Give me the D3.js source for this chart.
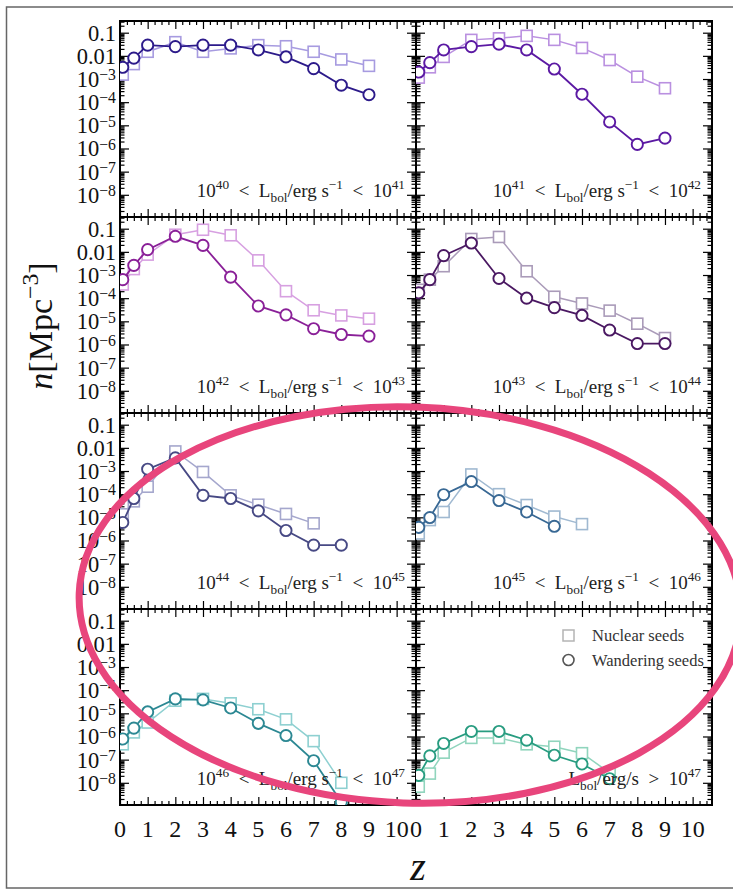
<!DOCTYPE html>
<html>
<head>
<meta charset="utf-8">
<script src="https://cdn.jsdelivr.net/npm/d3@7"></script>
<style>
  body { margin: 0; background: #fff; }
  svg { display: block; }
  text { font-family: "Liberation Serif", "DejaVu Serif", serif; white-space: pre; }
</style>
</head>
<body>
<svg id="fig" width="733" height="890"></svg>
<script>
// Redshift grid shared by every luminosity bin
const zGrid = [0.1, 0.5, 1, 2, 3, 4, 5, 6, 7, 8, 9];

// Number densities n [Mpc^-3] per luminosity bin (nuclear vs wandering seeds)
const nuclear_40_41   = [1.55e-3, 4.4e-3, 0.015, 0.039, 0.015, 0.021, 0.029, 0.026, 0.015, 7e-3, 3.7e-3];
const wandering_40_41 = [3.2e-3, 8e-3, 0.029, 0.025, 0.029, 0.029, 0.018, 9e-3, 2.8e-3, 5.4e-4, 2.1e-4];

const nuclear_41_42   = [1.15e-3, 3.2e-3, 9e-3, 0.049, 0.057, 0.073, 0.049, 0.022, 6.6e-3, 1.26e-3, 4e-4];
const wandering_41_42 = [2e-3, 5.1e-3, 0.018, 0.025, 0.032, 0.018, 2.7e-3, 2.2e-4, 1.4e-5, 1.5e-6, 2.8e-6];

const nuclear_42_43   = [3.9e-4, 1.8e-3, 7.6e-3, 0.055, 0.09, 0.052, 4.3e-3, 2e-4, 3e-5, 1.8e-5, 1.3e-5];
const wandering_42_43 = [6.3e-4, 2.6e-3, 0.0125, 0.047, 0.019, 8.1e-4, 4.6e-5, 1.9e-5, 4.8e-6, 2.7e-6, 2.3e-6];

const nuclear_43_44   = [2.3e-4, 6.3e-4, 2.4e-3, 0.036, 0.044, 1.45e-3, 1.15e-4, 5.9e-5, 2.9e-5, 7.9e-6, 1.9e-6];
const wandering_43_44 = [1.7e-4, 6.3e-4, 6.9e-3, 0.024, 7.1e-4, 1e-4, 3.9e-5, 1.8e-5, 4.2e-6, 1.1e-6, 1.1e-6];

const nuclear_44_45   = [1.35e-5, 4.9e-5, 2.1e-4, 7e-3, 9.1e-4, 8.9e-5, 3.5e-5, 1.4e-5, 5.5e-6];
const wandering_44_45 = [6e-6, 6.5e-5, 1.2e-3, 3.7e-3, 8.9e-5, 6.5e-5, 1.9e-5, 2.7e-6, 6.3e-7, 6.3e-7];

const nuclear_45_46   = [2e-6, 7.6e-6, 1.7e-5, 7.1e-4, 1e-4, 3.4e-5, 1.08e-5, 5.1e-6];
const wandering_45_46 = [3.7e-6, 9.8e-6, 9.5e-5, 3.5e-4, 5.3e-5, 1.7e-5, 4.1e-6];

const nuclear_46_47   = [4.6e-7, 1.5e-6, 4e-6, 3.5e-5, 4.2e-5, 2.7e-5, 1.5e-5, 5.5e-6, 6.3e-7, 1e-8];
const wandering_46_47 = [7.8e-7, 2.3e-6, 1.15e-5, 4.2e-5, 3.8e-5, 1.7e-5, 3.7e-6, 1.1e-6, 9e-8, 1.5e-9];

const nuclear_47   = [6.8e-9, 2.5e-8, 2e-7, 8.7e-7, 8.7e-7, 4.6e-7, 3.6e-7, 1.9e-7, 2.7e-8];
const wandering_47 = [2.1e-8, 1.45e-7, 5e-7, 1.65e-6, 1.65e-6, 6.9e-7, 1.55e-7, 6.5e-8, 1.5e-8];

// Bin labels: [text, mode] with mode 0 normal, 1 superscript, -1 subscript
const binLabels = [
  [["10",0],["40",1],["  <  L",0],["bol",-1],["/erg s",0],["−1",1],["  <  10",0],["41",1]],
  [["10",0],["41",1],["  <  L",0],["bol",-1],["/erg s",0],["−1",1],["  <  10",0],["42",1]],
  [["10",0],["42",1],["  <  L",0],["bol",-1],["/erg s",0],["−1",1],["  <  10",0],["43",1]],
  [["10",0],["43",1],["  <  L",0],["bol",-1],["/erg s",0],["−1",1],["  <  10",0],["44",1]],
  [["10",0],["44",1],["  <  L",0],["bol",-1],["/erg s",0],["−1",1],["  <  10",0],["45",1]],
  [["10",0],["45",1],["  <  L",0],["bol",-1],["/erg s",0],["−1",1],["  <  10",0],["46",1]],
  [["10",0],["46",1],["  <  L",0],["bol",-1],["/erg s",0],["−1",1],["  <  10",0],["47",1]],
  [["L",0],["bol",-1],["/erg/s  >  10",0],["47",1]]
];

const nuclearSets   = [nuclear_40_41, nuclear_41_42, nuclear_42_43, nuclear_43_44, nuclear_44_45, nuclear_45_46, nuclear_46_47, nuclear_47];
const wanderingSets = [wandering_40_41, wandering_41_42, wandering_42_43, wandering_43_44, wandering_44_45, wandering_45_46, wandering_46_47, wandering_47];

// Line colours per bin (wandering = dark, nuclear = light)
const wanderingColors = ["#2c1a8a", "#5b19a3", "#8a2098", "#4a1862", "#474984", "#386894", "#2c8893", "#289c80"];
const nuclearColors   = ["#a79be0", "#ba90e0", "#d7a0e1", "#aa9bb9", "#a5a7cd", "#a0b9d1", "#8ed0d1", "#90d5bd"];

const xTickValues = d3.range(0, 11);
const yLabelExps  = [-1, -2, -3, -4, -5, -6, -7, -8];

// ---- layout ----
const svg = d3.select("#fig");
const colX = [120, 416], panelW = 296;
const rowY = [21, 217, 413, 609], panelH = 196;
const zMax = 10.7, nMin = 1.1e-9, nMax = 0.32;

function richText(sel, segs, fs, raise) {
  const up = raise || 0.42;
  let cur = 0;
  segs.forEach(([t, m]) => {
    const off = m === 1 ? -up * fs : m === -1 ? 0.25 * fs : 0;
    const ts = sel.append("tspan").attr("dy", off - cur).text(t);
    if (m === 1 || m === -1) ts.attr("font-size", fs * 0.7);
    if (m === "i") ts.attr("font-style", "italic");
    cur = off;
  });
}

// outer frame
svg.append("rect").attr("x", 6.5).attr("y", 7).attr("width", 760).attr("height", 881)
  .attr("fill", "none").attr("stroke", "#666").attr("stroke-width", 1.5);

const minorZ = d3.range(0, zMax, 0.25).filter(v => Math.abs(v - Math.round(v)) > 1e-6);
const majorN = d3.range(-9, 0).map(e => Math.pow(10, e)).filter(v => v >= nMin && v <= nMax);
const minorN = [];
d3.range(-10, 0).forEach(e => { for (let k = 2; k <= 9; k++) { const v = k * Math.pow(10, e); if (v > nMin && v < nMax) minorN.push(v); } });

for (let i = 0; i < 8; i++) {
  const col = i % 2, row = Math.floor(i / 2);
  const x0 = colX[col], y0 = rowY[row];
  const x = d3.scaleLinear().domain([0, zMax]).range([x0, x0 + panelW]);
  const y = d3.scaleLog().domain([nMin, nMax]).range([y0 + panelH, y0]);
  const g = svg.append("g");

  const clipId = "clip" + i;
  svg.append("clipPath").attr("id", clipId).append("rect")
    .attr("x", x0).attr("y", y0).attr("width", panelW).attr("height", panelH);

  // axes with inward ticks on all four sides
  const axisStyle = a => a.call(s => s.select(".domain").remove())
    .call(s => s.selectAll("line").attr("stroke", "#000").attr("stroke-width", 1.2))
    .call(s => s.selectAll("text").remove());
  [[d3.axisBottom(x), y0 + panelH], [d3.axisTop(x), y0]].forEach(([ax, ty]) => {
    g.append("g").attr("transform", `translate(0,${ty})`).call(ax.tickValues(xTickValues).tickSize(-8)).call(axisStyle);
    g.append("g").attr("transform", `translate(0,${ty})`).call(ax.tickValues(minorZ).tickSize(-4)).call(axisStyle);
  });
  [[d3.axisLeft(y), x0], [d3.axisRight(y), x0 + panelW]].forEach(([ax, tx]) => {
    g.append("g").attr("transform", `translate(${tx},0)`).call(ax.tickValues(majorN).tickSize(-9)).call(axisStyle);
    g.append("g").attr("transform", `translate(${tx},0)`).call(ax.tickValues(minorN).tickSize(-4.5)).call(axisStyle);
  });
  g.append("rect").attr("x", x0).attr("y", y0).attr("width", panelW).attr("height", panelH)
    .attr("fill", "none").attr("stroke", "#000").attr("stroke-width", 2);

  // y tick labels on left column
  if (col === 0) {
    yLabelExps.forEach(e => {
      const t = g.append("text").attr("x", x0 - 4).attr("y", y(Math.pow(10, e)) + 8)
        .attr("text-anchor", "end").attr("font-size", 22.5).attr("fill", "#111");
      if (e === -1) t.text("0.1");
      else if (e === -2) t.text("0.01");
      else richText(t, [["10", 0], ["−" + (-e), 1]], 22.5, 0.3);
    });
  }
  // x tick labels on bottom row
  if (row === 3) {
    xTickValues.forEach(v => {
      g.append("text").attr("x", x(v)).attr("y", 837).attr("text-anchor", "middle")
        .attr("font-size", 24).attr("fill", "#111").text(v);
    });
  }

  // series
  const plot = g.append("g").attr("clip-path", `url(#${clipId})`);
  const line = d3.line().x(d => x(d.z)).y(d => y(d.v));
  const nuc = nuclearSets[i].map((v, k) => ({ z: zGrid[k], v }));
  const wan = wanderingSets[i].map((v, k) => ({ z: zGrid[k], v }));

  plot.append("path").datum(nuc).attr("d", line).attr("fill", "none")
    .attr("stroke", nuclearColors[i]).attr("stroke-width", 1.5);
  plot.selectAll(".sq").data(nuc).enter().append("rect")
    .attr("x", d => x(d.z) - 5.5).attr("y", d => y(d.v) - 5.5).attr("width", 11).attr("height", 11)
    .attr("fill", "#fff").attr("stroke", nuclearColors[i]).attr("stroke-width", 1.6);

  plot.append("path").datum(wan).attr("d", line).attr("fill", "none")
    .attr("stroke", wanderingColors[i]).attr("stroke-width", 1.8);
  plot.selectAll(".ci").data(wan).enter().append("circle")
    .attr("cx", d => x(d.z)).attr("cy", d => y(d.v)).attr("r", 5.6)
    .attr("fill", "#fff").attr("stroke", wanderingColors[i]).attr("stroke-width", 1.9);

  // bin label
  const lab = g.append("text").attr("x", x0 + panelW - 11).attr("y", y0 + 176)
    .attr("text-anchor", "end").attr("font-size", 19).attr("fill", "#222");
  richText(lab, binLabels[i], 19);

  // legend in last panel
  if (i === 7) {
    const lg = g.append("g");
    lg.append("rect").attr("x", 563).attr("y", 630).attr("width", 11).attr("height", 11)
      .attr("fill", "#fff").attr("stroke", "#b4b4b4").attr("stroke-width", 1.5);
    lg.append("text").attr("x", 592).attr("y", 641).attr("font-size", 16.5).attr("fill", "#333").text("Nuclear seeds");
    lg.append("circle").attr("cx", 568.5).attr("cy", 660).attr("r", 5.5)
      .attr("fill", "#fff").attr("stroke", "#555").attr("stroke-width", 1.6);
    lg.append("text").attr("x", 592).attr("y", 666).attr("font-size", 16.5).attr("fill", "#333").text("Wandering seeds");
  }
}

// axis titles
const yt = svg.append("text").attr("transform", "translate(52,326) rotate(-90)")
  .attr("text-anchor", "middle").attr("font-size", 34).attr("fill", "#111");
richText(yt, [["n", "i"], ["[Mpc", 0], ["−3", 1], ["]", 0]], 34);
svg.append("text").attr("x", 418).attr("y", 880).attr("text-anchor", "middle")
  .attr("font-size", 40).attr("font-style", "italic").attr("fill", "#111").text("z");

// highlight ellipse
svg.append("ellipse").attr("cx", 410).attr("cy", 605).attr("rx", 331).attr("ry", 198)
  .attr("transform", "rotate(2,410,605)")
  .attr("fill", "none").attr("stroke", "#e8457c").attr("stroke-width", 7);
</script>
</body>
</html>
